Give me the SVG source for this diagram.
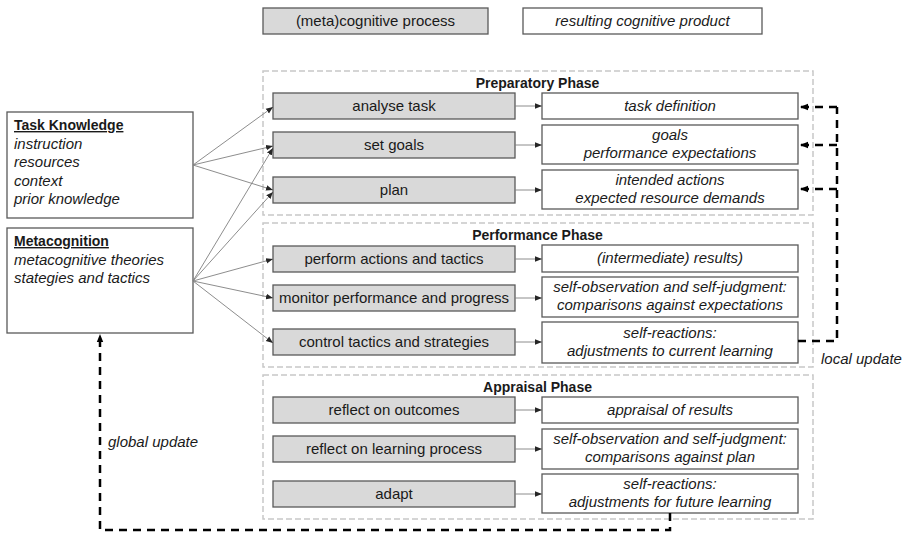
<svg xmlns="http://www.w3.org/2000/svg" width="915" height="533" viewBox="0 0 915 533">
<defs>
<marker id="ah" viewBox="0 0 10 10" refX="10" refY="5" markerWidth="7" markerHeight="7" markerUnits="userSpaceOnUse" orient="auto"><path d="M0,1 L10,5 L0,9 z" fill="#262626"/></marker>
<marker id="ahd" viewBox="0 0 10 10" refX="10" refY="5" markerWidth="8" markerHeight="8" markerUnits="userSpaceOnUse" orient="auto"><path d="M0,1 L10,5 L0,9 z" fill="#000"/></marker>
</defs>
<style>
text{font-family:"Liberation Sans",Arial,sans-serif;fill:#1a1a1a}
.proc rect{fill:#d9d9d9;stroke:#595959;stroke-width:1.3}
.prod rect{fill:#fff;stroke:#595959;stroke-width:1.3}
.proc text{font-size:15px;text-anchor:middle}
.prod text{font-size:15px;text-anchor:middle;font-style:italic}
.phase{fill:none;stroke:#c8c8c8;stroke-width:1.5;stroke-dasharray:6 3}
.ptitle{font-size:14px;font-weight:bold;text-anchor:middle}
.kb rect{fill:#fff;stroke:#595959;stroke-width:1.3}
.kb text{font-size:15px}
.kb .h{font-weight:bold;text-decoration:underline;font-size:14px}
.kb .i{font-style:italic}
.thin{fill:none;stroke:#808080;stroke-width:0.9;marker-end:url(#ah)}
.fb{fill:none;stroke:#000;stroke-width:2.5;stroke-dasharray:8 6}
.lbl{font-size:15px;font-style:italic}
</style>
<rect width="915" height="533" fill="#fff"/>

<g id="legend">
<g class="proc"><rect x="263" y="8" width="225" height="26"/><text x="375.5" y="26">(meta)cognitive process</text></g>
<g class="prod"><rect x="523" y="8" width="239" height="26"/><text x="642.5" y="26">resulting cognitive product</text></g>
</g>

<g id="phases">
<rect class="phase" x="263" y="71" width="550" height="144"/>
<text class="ptitle" x="537.5" y="88">Preparatory Phase</text>
<rect class="phase" x="263" y="223" width="550" height="144"/>
<text class="ptitle" x="537.5" y="240">Performance Phase</text>
<rect class="phase" x="263" y="375" width="550" height="144"/>
<text class="ptitle" x="537.5" y="392">Appraisal Phase</text>
</g>

<g id="task-knowledge" class="kb">
<rect x="7" y="112" width="186" height="106"/>
<text x="14" y="130" class="h">Task Knowledge</text>
<text x="14" y="148.5" class="i">instruction</text>
<text x="14" y="167" class="i">resources</text>
<text x="14" y="185.5" class="i">context</text>
<text x="14" y="204" class="i">prior knowledge</text>
</g>
<g id="metacognition" class="kb">
<rect x="7" y="228" width="186" height="105"/>
<text x="14" y="246" class="h">Metacognition</text>
<text x="14" y="264.5" class="i">metacognitive theories</text>
<text x="14" y="283" class="i">stategies and tactics</text>
</g>

<g id="analyse-task" class="proc"><rect x="273" y="93" width="242" height="26"/><text x="394" y="111">analyse task</text></g>
<g id="set-goals" class="proc"><rect x="273" y="132" width="242" height="26"/><text x="394" y="150">set goals</text></g>
<g id="plan" class="proc"><rect x="273" y="177" width="242" height="26"/><text x="394" y="195">plan</text></g>
<g id="perform" class="proc"><rect x="273" y="246" width="242" height="26"/><text x="394" y="264">perform actions and tactics</text></g>
<g id="monitor" class="proc"><rect x="273" y="285" width="242" height="26"/><text x="394" y="303">monitor performance and progress</text></g>
<g id="control" class="proc"><rect x="273" y="329" width="242" height="26"/><text x="394" y="347">control tactics and strategies</text></g>
<g id="reflect-outcomes" class="proc"><rect x="273" y="397" width="242" height="26"/><text x="394" y="415">reflect on outcomes</text></g>
<g id="reflect-process" class="proc"><rect x="273" y="436" width="242" height="26"/><text x="394" y="454">reflect on learning process</text></g>
<g id="adapt" class="proc"><rect x="273" y="481" width="242" height="26"/><text x="394" y="499">adapt</text></g>

<g id="task-definition" class="prod"><rect x="542" y="93" width="256" height="26"/><text x="670" y="111">task definition</text></g>
<g id="goals" class="prod"><rect x="542" y="125" width="256" height="39"/><text x="670" y="140">goals</text><text x="670" y="158">performance expectations</text></g>
<g id="intended-actions" class="prod"><rect x="542" y="170" width="256" height="39"/><text x="670" y="185">intended actions</text><text x="670" y="203">expected resource demands</text></g>
<g id="results" class="prod"><rect x="542" y="245" width="256" height="27"/><text x="670" y="263">(intermediate) results)</text></g>
<g id="self-obs-perf" class="prod"><rect x="542" y="277" width="256" height="40"/><text x="670" y="292">self-observation and self-judgment:</text><text x="670" y="310">comparisons against expectations</text></g>
<g id="self-react-perf" class="prod"><rect x="542" y="322" width="256" height="41"/><text x="670" y="338">self-reactions:</text><text x="670" y="356">adjustments to current learning</text></g>
<g id="appraisal" class="prod"><rect x="542" y="397" width="256" height="26"/><text x="670" y="415">appraisal of results</text></g>
<g id="self-obs-appr" class="prod"><rect x="542" y="429" width="256" height="40"/><text x="670" y="444">self-observation and self-judgment:</text><text x="670" y="462">comparisons against plan</text></g>
<g id="self-react-appr" class="prod"><rect x="542" y="474" width="256" height="39"/><text x="670" y="489">self-reactions:</text><text x="670" y="507">adjustments for future learning</text></g>

<g id="connectors">
<path class="thin" d="M193,165 L273,107"/>
<path class="thin" d="M193,165 L273,146"/>
<path class="thin" d="M193,165 L273,190"/>
<path class="thin" d="M193,281 L273,148"/>
<path class="thin" d="M193,281 L273,192"/>
<path class="thin" d="M193,281 L273,259"/>
<path class="thin" d="M193,281 L273,298"/>
<path class="thin" d="M193,281 L273,343"/>
<path class="thin" d="M515,106 L542,106"/>
<path class="thin" d="M515,145 L542,145"/>
<path class="thin" d="M515,190 L542,190"/>
<path class="thin" d="M515,259 L542,259"/>
<path class="thin" d="M515,298 L542,298"/>
<path class="thin" d="M515,342 L542,342"/>
<path class="thin" d="M515,410 L542,410"/>
<path class="thin" d="M515,449 L542,449"/>
<path class="thin" d="M515,494 L542,494"/>
<path class="fb" d="M798,341 L837,341 L837,107"/>
<path class="fb" d="M837,107 L800,107" marker-end="url(#ahd)"/>
<path class="fb" d="M837,145 L800,145" marker-end="url(#ahd)"/>
<path class="fb" d="M837,189 L800,189" marker-end="url(#ahd)"/>
<path class="fb" d="M670,513 L670,530 L100,530 L100,334" marker-end="url(#ahd)"/>
<text class="lbl" x="821" y="364">local update</text>
<text class="lbl" x="108" y="447">global update</text>
</g>
</svg>
